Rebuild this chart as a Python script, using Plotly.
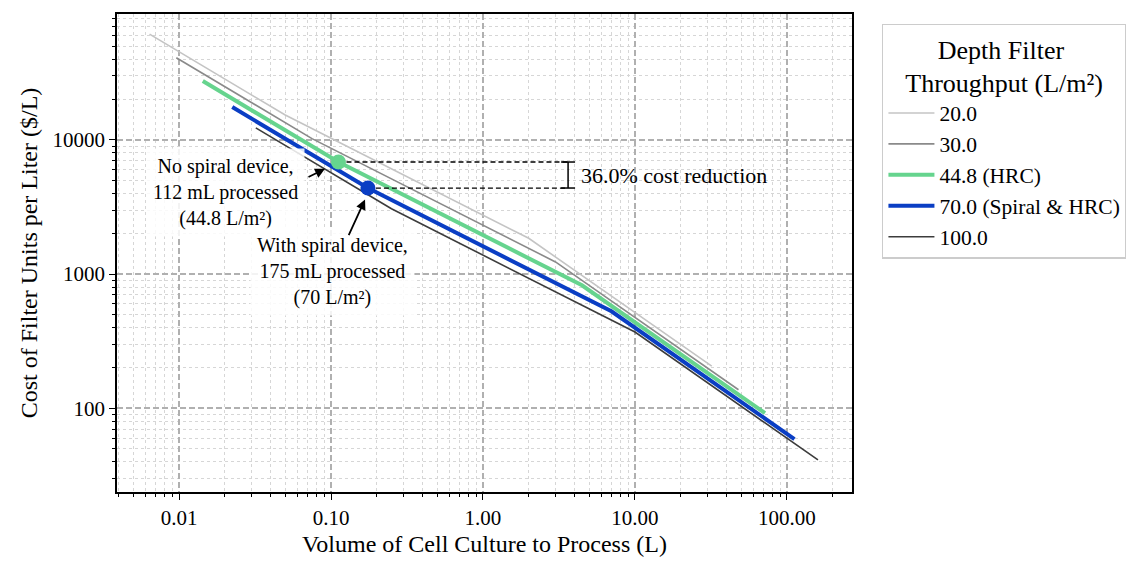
import math
import plotly.graph_objects as go

# Cost of depth-filter units per liter of cell culture, for several filter throughputs.
# Volumes in L, costs in $/L.
series_names = ["20.0", "30.0", "44.8 (HRC)", "70.0 (Spiral & HRC)", "100.0"]

vol_20 = [0.0064, 0.05, 2.0, 32.0]
cost_20 = [61560, 15340, 1850, 206]

vol_30 = [0.0096, 0.075, 3.0, 48.0]
cost_30 = [41040, 10230, 1233, 137.5]

vol_448 = [0.01434, 0.112, 4.48, 71.7]
cost_448 = [27480, 6850, 826, 92.1]

vol_70 = [0.0224, 0.175, 7.0, 112.0]
cost_70 = [17590, 4383, 528.6, 58.9]

vol_100 = [0.032, 0.25, 10.0, 160.0]
cost_100 = [12310, 3068, 370, 41.25]

# Highlighted operating points (same filter unit, with / without the spiral device)
hrc_point = (0.112, 6850)
spiral_point = (0.175, 4383)
bracket_vol = 3.63

FONT = "Liberation Serif"

styles = [
    dict(color="#c4c4c4", width=1.6),
    dict(color="#8a8a8a", width=1.6),
    dict(color="#66d48e", width=4),
    dict(color="#0a3ec4", width=4),
    dict(color="#3c3c3c", width=1.6),
]

fig = go.Figure()
for name, xs, ys, st in zip(
    series_names,
    [vol_20, vol_30, vol_448, vol_70, vol_100],
    [cost_20, cost_30, cost_448, cost_70, cost_100],
    styles,
):
    fig.add_trace(go.Scatter(x=xs, y=ys, mode="lines", name=name, line=st))

# dashed guides from the two points to the bracket
for (px, py) in (hrc_point, spiral_point):
    fig.add_trace(go.Scatter(
        x=[px, bracket_vol], y=[py, py], mode="lines", showlegend=False,
        line=dict(color="black", width=1.3, dash="5px,3px"), hoverinfo="skip"))

# bracket marking the cost difference
fig.add_trace(go.Scatter(
    x=[bracket_vol, bracket_vol], y=[hrc_point[1], spiral_point[1]],
    mode="lines+markers", showlegend=False, hoverinfo="skip",
    line=dict(color="black", width=1.5),
    marker=dict(symbol="line-ew-open", size=10, color="black",
                line=dict(color="black", width=1.5))))

# the two operating points
fig.add_trace(go.Scatter(
    x=[hrc_point[0]], y=[hrc_point[1]], mode="markers", showlegend=False,
    marker=dict(color="#66d48e", size=15)))
fig.add_trace(go.Scatter(
    x=[spiral_point[0]], y=[spiral_point[1]], mode="markers", showlegend=False,
    marker=dict(color="#0a3ec4", size=15)))

reduction = (1 - spiral_point[1] / hrc_point[1]) * 100
mid_log = (math.log10(hrc_point[1]) + math.log10(spiral_point[1])) / 2

annotations = [
    dict(x=math.log10(bracket_vol), y=mid_log, xref="x", yref="y",
         text=f"{reduction:.1f}% cost reduction", showarrow=False,
         xanchor="left", yanchor="middle", xshift=11,
         font=dict(family=FONT, size=22, color="black")),
    dict(x=-1.691, y=3.606, xref="x", yref="y",
         text="No spiral device,<br>112 mL processed<br>(44.8 L/m²)",
         showarrow=False, xanchor="center", yanchor="middle",
         bgcolor="rgba(255,255,255,0.85)", borderpad=6,
         font=dict(family=FONT, size=20, color="black")),
    dict(x=-0.993, y=3.0215, xref="x", yref="y",
         text="With spiral device,<br>175 mL processed<br>(70 L/m²)",
         showarrow=False, xanchor="center", yanchor="middle",
         bgcolor="rgba(255,255,255,0.85)", borderpad=6,
         font=dict(family=FONT, size=20, color="black")),
    dict(x=-1.0395, y=3.785, xref="x", yref="y", text="",
         showarrow=True, ax=-18, ay=9, arrowhead=2, arrowsize=1.1,
         arrowwidth=1.8, arrowcolor="black"),
    dict(x=-0.776, y=3.5556, xref="x", yref="y", text="",
         showarrow=True, ax=-17, ay=37, arrowhead=2, arrowsize=1.1,
         arrowwidth=1.8, arrowcolor="black"),
]

axis_common = dict(
    type="log",
    showline=True, mirror=True, linecolor="black", linewidth=1.5,
    ticks="outside", ticklen=6, tickwidth=1.2, tickcolor="black",
    dtick=1,
    showgrid=True, gridcolor="#b0b0b0", gridwidth=1.5, griddash="6px,3px",
    zeroline=False,
    tickfont=dict(family=FONT, size=21, color="black"),
    minor=dict(dtick="D1", ticks="outside", ticklen=3.5, tickwidth=1,
               tickcolor="black", showgrid=True, gridcolor="#d6d6d6",
               gridwidth=0.8, griddash="dot"),
)

legend_title = "\u00a0" * 5 + "Depth Filter<br>Throughput (L/m²)"

fig.update_layout(
    width=1140, height=565,
    margin=dict(l=117, r=288, t=12, b=56),
    paper_bgcolor="white", plot_bgcolor="white",
    font=dict(family=FONT, color="black"),
    xaxis=dict(axis_common, range=[-2.408, 2.428], tickformat=".2f",
               title=dict(text="Volume of Cell Culture to Process (L)",
                          font=dict(family=FONT, size=24), standoff=6)),
    yaxis=dict(axis_common, range=[1.376, 4.939], tickformat="d",
               title=dict(text="Cost of Filter Units per Liter ($/L)",
                          font=dict(family=FONT, size=24), standoff=8)),
    legend=dict(
        x=1.041, y=0.98, xanchor="left", yanchor="top",
        bgcolor="white", bordercolor="#cccccc", borderwidth=1.3,
        font=dict(family=FONT, size=21.5, color="black"),
        title=dict(text=legend_title, side="top center",
                   font=dict(family=FONT, size=26, color="black")),
        itemwidth=46, tracegroupgap=0,
    ),
    annotations=annotations,
    showlegend=True,
)

fig.write_html("out.html")
